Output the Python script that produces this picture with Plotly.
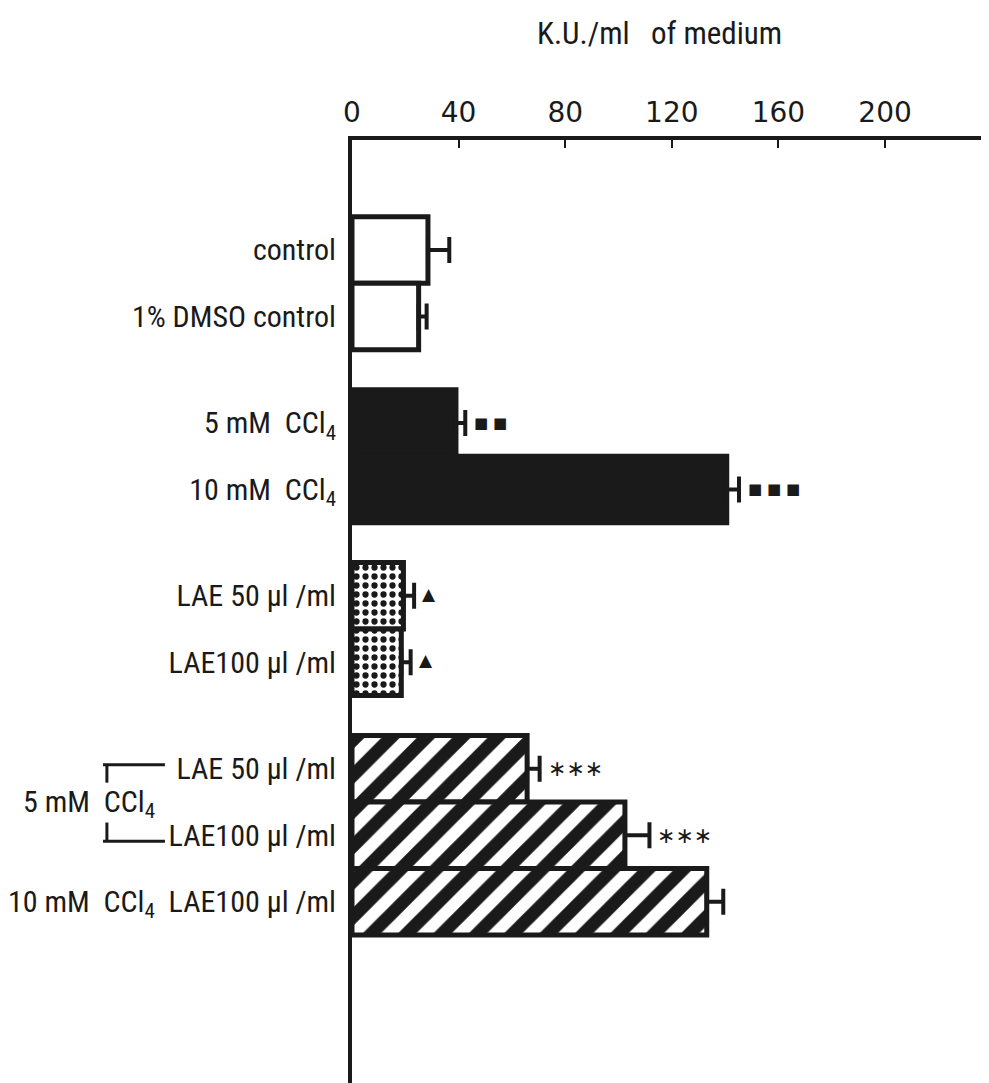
import plotly.graph_objects as go

# ---- data ----
labels = ["control", "1% DMSO control",
          "5 mM  CCl<sub>4</sub>", "10 mM  CCl<sub>4</sub>",
          "LAE 50 µl /ml", "LAE100 µl /ml",
          "LAE 50 µl /ml", "LAE100 µl /ml", "10 mM  CCl<sub>4</sub>  LAE100 µl /ml"]
values = [28.5, 25, 39, 140.6, 19.3, 18.5, 65.7, 102.4, 133.1]
errors = [8, 3, 3.5, 4.6, 4, 3.5, 4.7, 9.2, 6.2]
groups = [0, 0, 1, 1, 2, 2, 3, 3, 3]
styles = ["open", "open", "solid", "solid", "dot", "dot", "hatch", "hatch", "hatch"]
signif = ["", "", "■ ■", "■ ■ ■", "▲", "▲", "∗∗∗", "∗∗∗", ""]
x_ticks = [0, 40, 80, 120, 160, 200]
x_title = "K.U./ml   of medium"

GAP = 0.6
pos = [i + GAP * g for i, g in enumerate(groups)]

FONT = "Roboto Condensed, Liberation Sans Narrow, Roboto, Liberation Sans"
INK = "#1a1a1a"

style_def = {
    "open": dict(color="white"),
    "solid": dict(color=INK),
    "dot": dict(color="white", pattern=dict(shape=".", fgcolor=INK, bgcolor="white",
                                             fgopacity=1, size=9, solidity=0.38)),
    "hatch": dict(color="white", pattern=dict(shape="/", fgcolor=INK, bgcolor="white",
                                               fgopacity=1, size=25, solidity=0.52)),
}

fig = go.Figure()
for st in ["open", "solid", "dot", "hatch"]:
    idx = [i for i, s in enumerate(styles) if s == st]
    m = dict(style_def[st])
    m["line"] = dict(color=INK, width=5)
    fig.add_trace(go.Bar(
        orientation="h",
        x=[values[i] for i in idx],
        y=[pos[i] for i in idx],
        width=1.0,
        marker=m,
        error_x=dict(type="data", symmetric=False,
                     array=[errors[i] for i in idx],
                     arrayminus=[0] * len(idx),
                     color=INK, thickness=4, width=13),
        showlegend=False,
        hoverinfo="skip",
    ))

# significance marks
for i, s in enumerate(signif):
    if not s:
        continue
    if "■" in s:
        f = dict(size=15, color=INK, family="DejaVu Sans")
        ys, xs = 0, 7
    elif "▲" in s:
        f = dict(size=17, color=INK, family="DejaVu Sans")
        ys, xs = 2, 6
    else:
        f = dict(size=22, color=INK, family="DejaVu Sans")
        ys, xs = 0, 6
    fig.add_annotation(x=values[i] + errors[i], y=pos[i], xref="x", yref="y",
                       text=s, showarrow=False, xanchor="left", yanchor="middle",
                       xshift=xs, yshift=ys, font=f)

# title
fig.add_annotation(x=0.4775, y=1.1125, xref="paper", yref="paper", text=x_title,
                   showarrow=False, xanchor="center", yanchor="middle",
                   font=dict(size=31, color=INK, family=FONT))

# bracket group label for 5 mM CCl4 combos
ymid = (pos[6] + pos[7]) / 2
fig.add_annotation(x=-0.302, y=ymid, xref="paper", yref="y",
                   text="5 mM  CCl<sub>4</sub>", showarrow=False,
                   xanchor="right", yanchor="middle", yshift=-2,
                   font=dict(size=30, color=INK, family=FONT))
bx0, bx1, bxv = -0.386, -0.290, -0.380
lw = dict(color=INK, width=3)
fig.add_shape(type="line", xref="paper", yref="y", x0=bx0, x1=bx1,
              y0=pos[6] - 0.06, y1=pos[6] - 0.06, line=lw)
fig.add_shape(type="line", xref="paper", yref="y", x0=bxv, x1=bxv,
              y0=pos[6] - 0.06, y1=pos[6] + 0.21, line=lw)
fig.add_shape(type="line", xref="paper", yref="y", x0=bx0, x1=bx1,
              y0=pos[7] + 0.09, y1=pos[7] + 0.09, line=lw)
fig.add_shape(type="line", xref="paper", yref="y", x0=bxv, x1=bxv,
              y0=pos[7] + 0.09, y1=pos[7] - 0.19, line=lw)

fig.update_layout(
    width=989, height=1083,
    margin=dict(l=344, r=0, t=132, b=0, autoexpand=False),
    paper_bgcolor="white", plot_bgcolor="white",
    barmode="overlay",
    font=dict(family=FONT, color=INK),
    xaxis=dict(side="top", range=[0, 242], tickvals=x_ticks,
               ticktext=[str(t) for t in x_ticks],
               showgrid=False, zeroline=False, automargin=False,
               showline=True, linecolor=INK, linewidth=4,
               ticks="inside", ticklen=8, tickwidth=2, tickcolor=INK,
               tickfont=dict(size=28, family="DejaVu Sans", color=INK),
               ticklabelstandoff=3),
    yaxis=dict(range=[12.647, -1.654], tickvals=pos, ticktext=labels,
               showgrid=False, zeroline=False, automargin=False,
               showline=True, linecolor=INK, linewidth=4,
               ticks="", tickfont=dict(size=30, family=FONT, color=INK),
               ticklabelstandoff=6),
)

fig.write_html("out.html")
